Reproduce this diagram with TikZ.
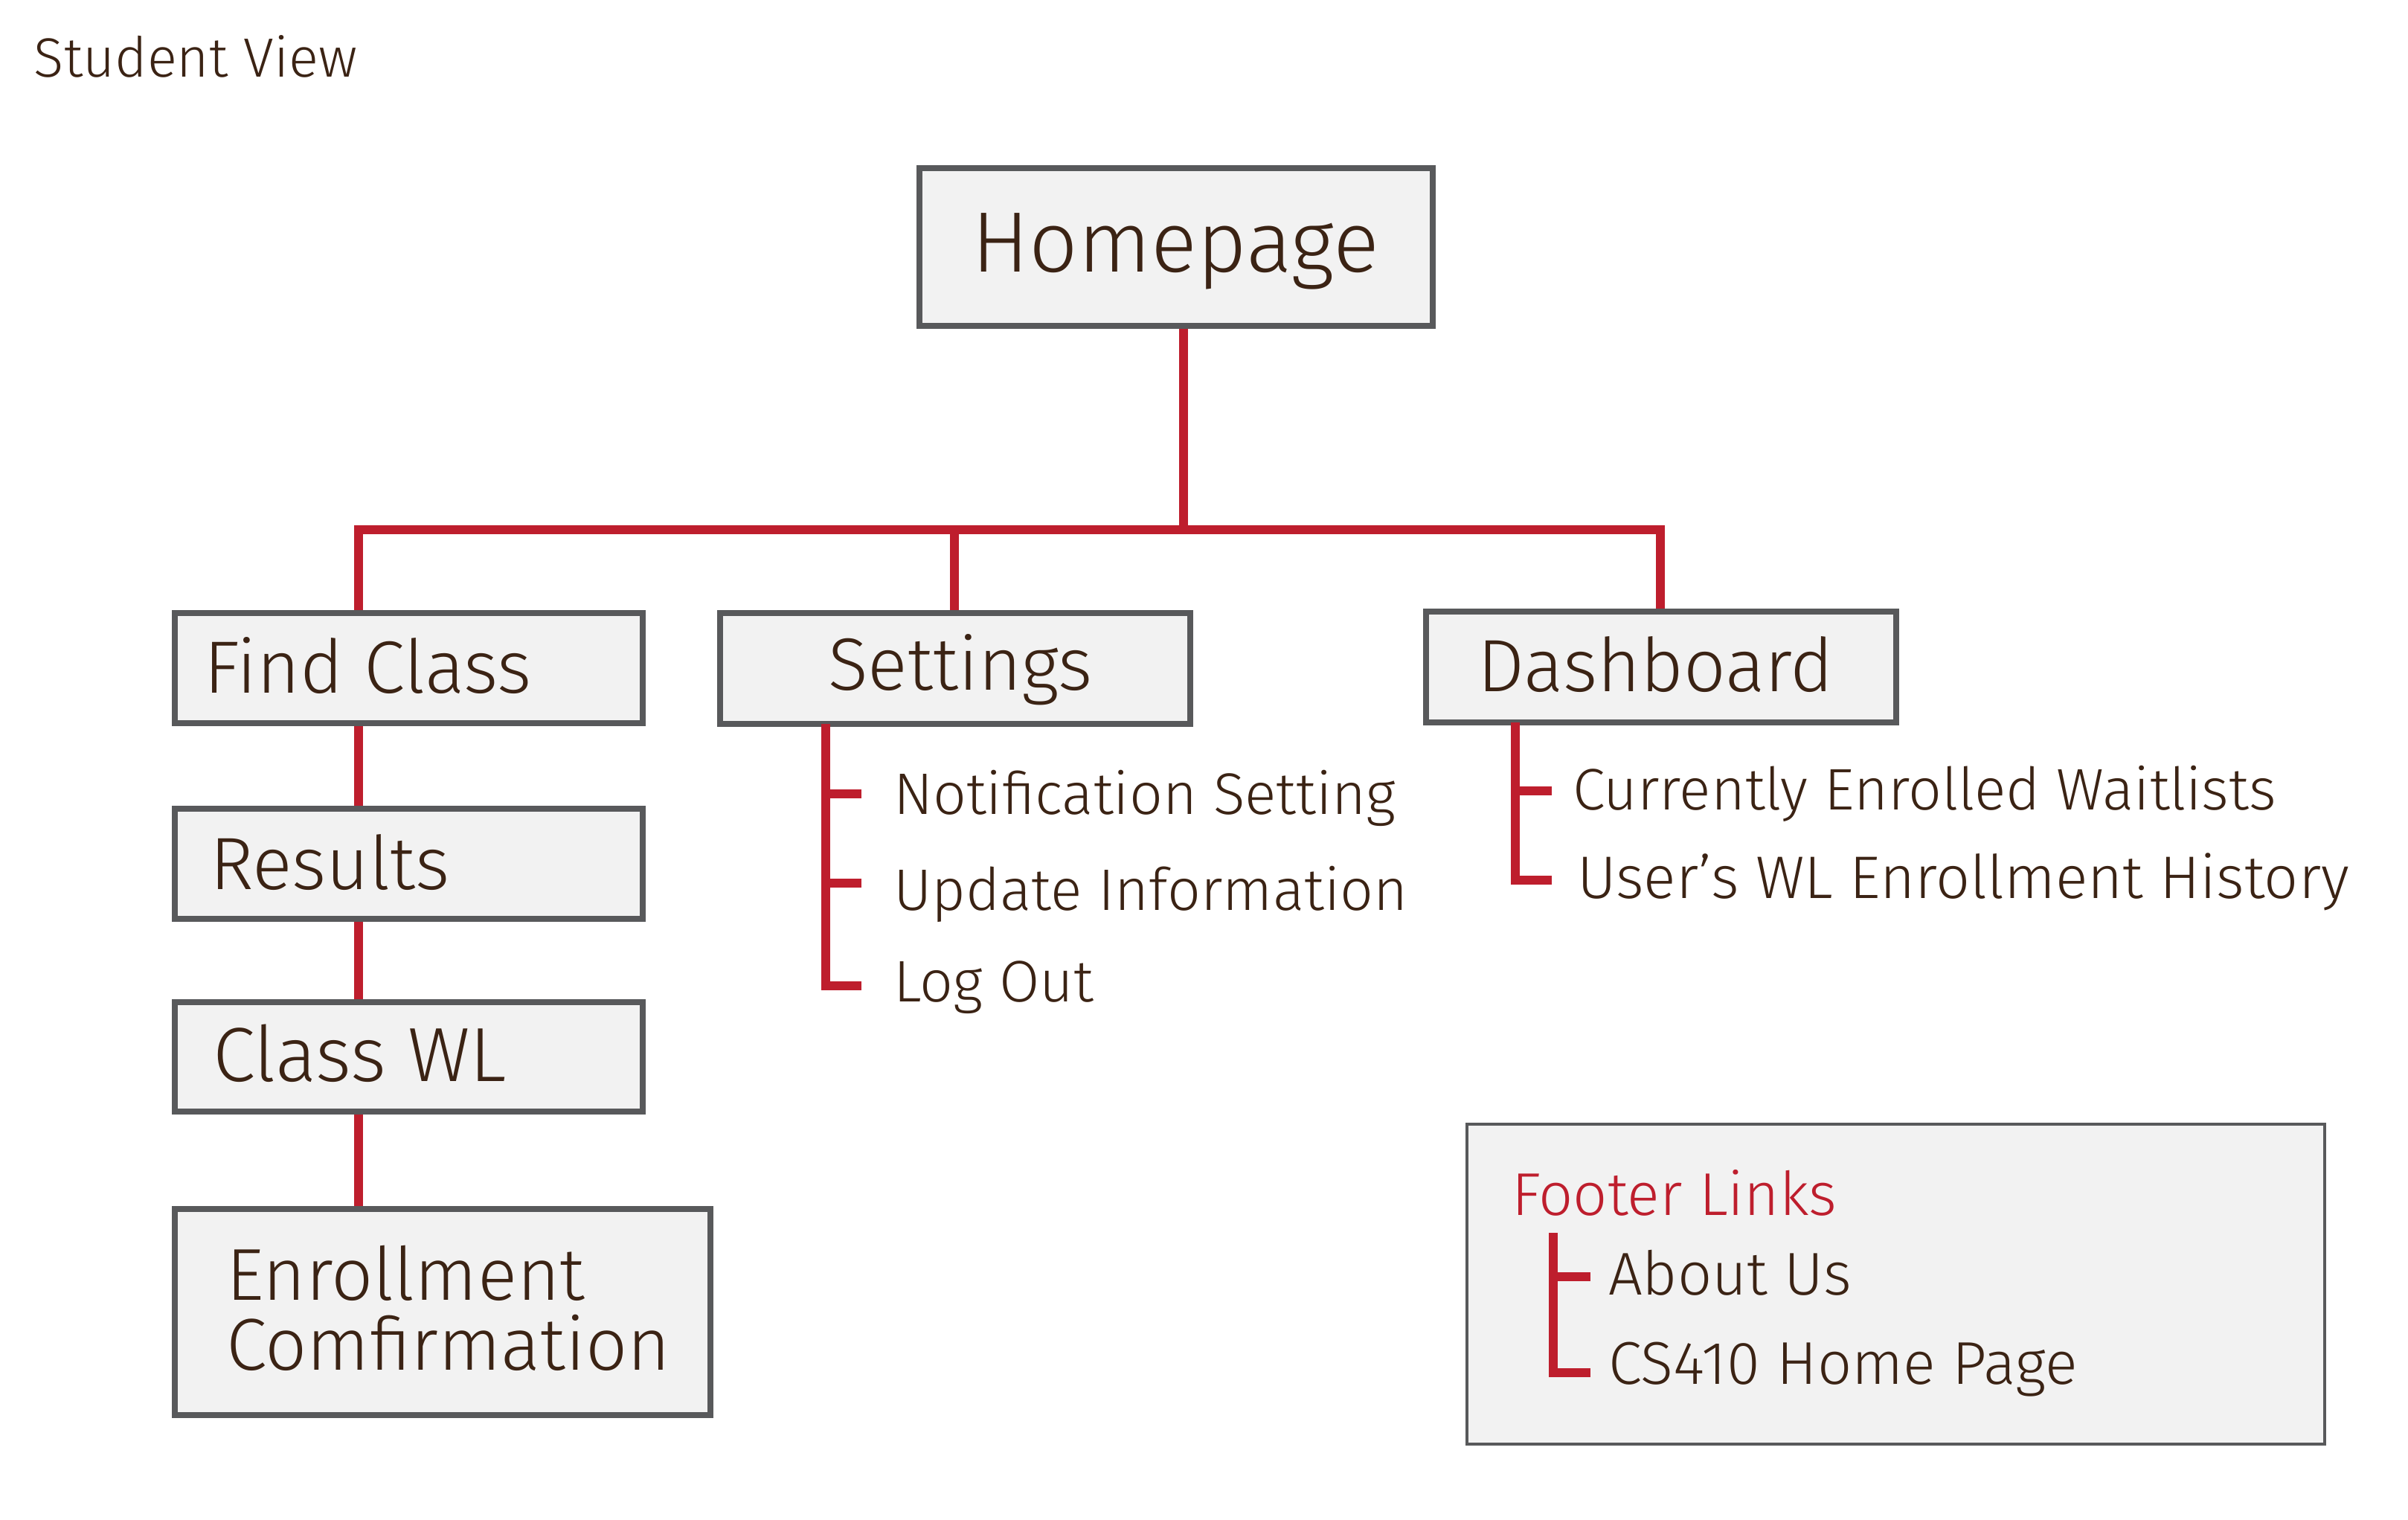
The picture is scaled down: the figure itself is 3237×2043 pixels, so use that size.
\documentclass[tikz,border=0pt]{standalone}
\usepackage{fontspec}
\setmainfont{Fira Sans Light}
\usetikzlibrary{backgrounds}
\definecolor{txt}{HTML}{3B2314}
\definecolor{boxline}{HTML}{58595B}
\definecolor{boxfill}{HTML}{F2F2F2}
\definecolor{linkred}{HTML}{BE1E2D}
\begin{document}
\begin{tikzpicture}[x=0.25pt,y=-0.25pt,
  box/.style={draw=boxline,fill=boxfill,line width=2pt,outer sep=0pt,inner sep=0pt,rectangle},
  footbox/.style={box,line width=1pt},
  redline/.style={draw=linkred,line width=3.2pt,line join=miter,line cap=butt},
  lbl/.style={anchor=base west,inner sep=0pt,outer sep=0pt,text=txt},
  clbl/.style={anchor=base,inner sep=0pt,outer sep=0pt,text=txt},
  bigf/.style={font=\fontsize{28.8}{34}\selectfont},
  midf/.style={font=\fontsize{24.9}{30}\selectfont},
  enrf/.style={font=\fontsize{24.7}{30}\selectfont},
  subf/.style={font=\fontsize{19.7}{24}\selectfont},
  footf/.style={font=\fontsize{20.3}{24}\selectfont},
  titf/.style={font=\fontsize{18.6}{22}\selectfont}]
\useasboundingbox (0,0) rectangle (3237,2043);

% title
\node[lbl,titf] (title) at (46,104) {Student View};

% boxes
\node[box,minimum width={690*0.25pt},minimum height={212*0.25pt}] (home) at (1581,332) {};
\node[box,minimum width={629*0.25pt},minimum height={148*0.25pt}] (find) at (549.5,898) {};
\node[box,minimum width={629*0.25pt},minimum height={148*0.25pt}] (results) at (549.5,1161) {};
\node[box,minimum width={629*0.25pt},minimum height={147*0.25pt}] (classwl) at (549.5,1420.5) {};
\node[box,minimum width={720*0.25pt},minimum height={277*0.25pt}] (enroll) at (595,1763.5) {};
\node[box,minimum width={632*0.25pt},minimum height={149*0.25pt}] (settings) at (1284,898.5) {};
\node[box,minimum width={632*0.25pt},minimum height={149*0.25pt}] (dash) at (2233,896.5) {};
\node[footbox,minimum width={1153*0.25pt},minimum height={430*0.25pt}] (footer) at (2548.5,1726) {};

% box labels
\node[clbl,bigf] (homet) at (1580,366) {Homepage};
\node[lbl,midf] (findt) at (274,932) {Find Class};
\node[lbl,midf] (resultst) at (282,1195) {Results};
\node[lbl,midf,font=\fontsize{25.8}{30}\selectfont] (classwlt) at (286,1453) {Class WL};
\node[lbl,enrf] (enrollt1) at (304,1747) {Enrollment};
\node[lbl,enrf] (enrollt2) at (304,1841) {Comfirmation};
\node[clbl,midf] (settingst) at (1291,928) {Settings};
\node[clbl,midf] (dasht) at (2226,930) {Dashboard};

% sub items
\node[lbl,subf] (notif) at (1201,1094) {Notification Setting};
\node[lbl,subf] (update) at (1201,1223) {Update Information};
\node[lbl,subf] (logout) at (1201,1346) {Log Out};
\node[lbl,subf] (curr) at (2114,1088) {Currently Enrolled Waitlists};
\node[lbl,subf,font=\fontsize{20.2}{24}\selectfont] (hist) at (2120,1207) {User’s WL Enrollment History};

% footer
\node[lbl,footf,text=linkred] (foott) at (2032,1633) {Footer Links};
\node[lbl,footf] (about) at (2162,1740) {About Us};
\node[lbl,footf] (cs) at (2162,1860) {CS410 Home Page};

% connector points
\coordinate (J) at (1591,712);
\coordinate (Jf) at (482,712);
\coordinate (Js) at (1283,712);
\coordinate (Jd) at (2232,712);
\coordinate (S1) at (1110,1067);
\coordinate (S2) at (1110,1187);
\coordinate (S3) at (1110,1325);
\coordinate (D1) at (2037,1063);
\coordinate (D2) at (2037,1183);
\coordinate (F0) at (2088,1657);
\coordinate (F1) at (2088,1716);
\coordinate (F2) at (2088,1845);

\begin{scope}[on background layer]
\fill[white] (0,0) rectangle (3237,2043);
\draw[redline] (home.south -| J) -- (J);
\draw[redline] (find.north -| Jf) -- (Jf) -- (Jd) -- (dash.north -| Jd);
\draw[redline] (Js) -- (settings.north -| Js);
\draw[redline] (find.south -| Jf) -- (results.north -| Jf);
\draw[redline] (results.south -| Jf) -- (classwl.north -| Jf);
\draw[redline] (classwl.south -| Jf) -- (enroll.north -| Jf);
\end{scope}

\draw[redline] (settings.south -| S1) -- (S3) -- ++(48,0);
\draw[redline] (S1) -- ++(48,0);
\draw[redline] (S2) -- ++(48,0);
\draw[redline] (dash.south -| D1) -- (D2) -- ++(49,0);
\draw[redline] (D1) -- ++(49,0);
\draw[redline] (F0) -- (F2) -- ++(50,0);
\draw[redline] (F1) -- ++(50,0);
\end{tikzpicture}
\end{document}
